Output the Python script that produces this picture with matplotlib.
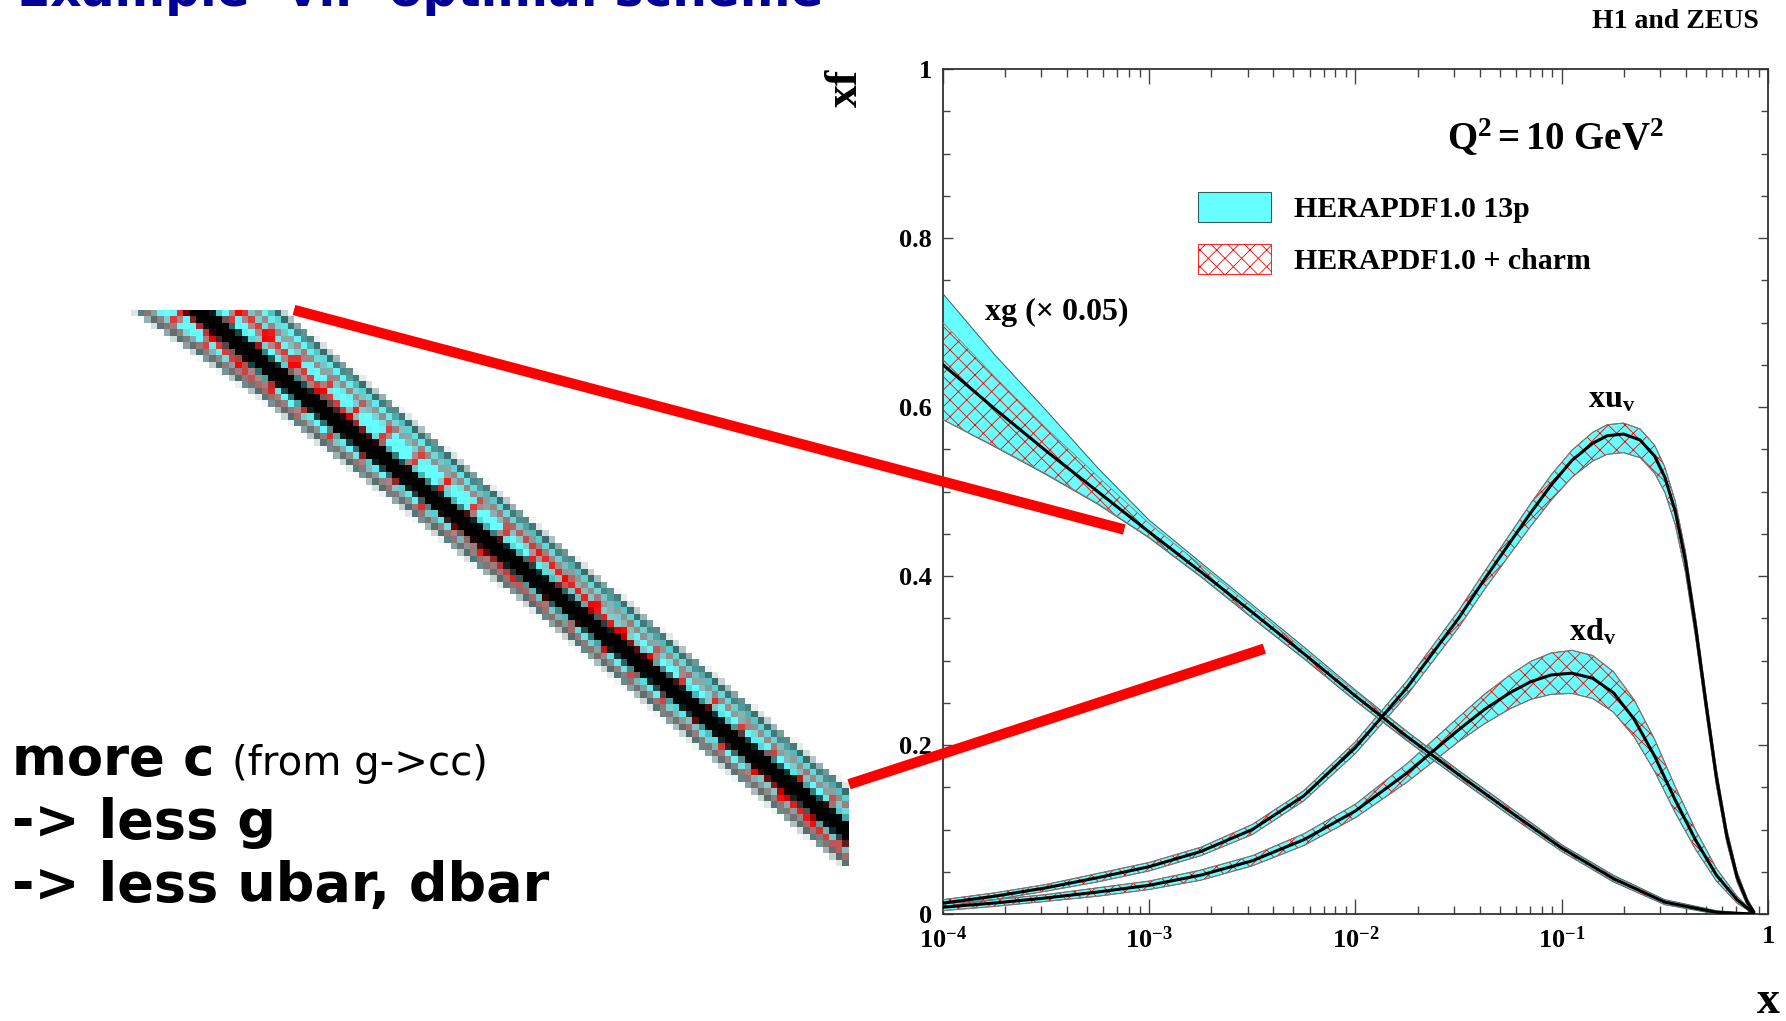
import numpy as np
import matplotlib
matplotlib.use("Agg")
import matplotlib.pyplot as plt
from matplotlib.patches import Patch, ConnectionPatch
from matplotlib.ticker import FixedLocator, LogLocator, NullFormatter, MultipleLocator

plt.rcParams['font.family'] = 'Liberation Serif'
plt.rcParams['mathtext.fontset'] = 'custom'
plt.rcParams['mathtext.rm'] = 'Liberation Serif'
plt.rcParams['mathtext.bf'] = 'Liberation Serif:bold'
plt.rcParams['mathtext.it'] = 'Liberation Serif:italic'
plt.rcParams['hatch.linewidth'] = 0.6

# ---- data (log10 x, xf) ----
# gluon xg * 0.05
lx_g = [-4.0, -3.75, -3.5, -3.25, -3.0, -2.75, -2.5, -2.25, -2.0, -1.75, -1.5, -1.25, -1.0, -0.75, -0.5, -0.25, -0.07]
xg_c = [0.650, 0.598, 0.548, 0.500, 0.452, 0.405, 0.357, 0.308, 0.258, 0.210, 0.165, 0.121, 0.078, 0.042, 0.014, 0.002, 0.000]
xg_hi = [0.734, 0.662, 0.596, 0.528, 0.466, 0.416, 0.366, 0.316, 0.265, 0.216, 0.170, 0.126, 0.082, 0.046, 0.017, 0.004, 0.000]
xg_lo = [0.585, 0.553, 0.520, 0.485, 0.445, 0.399, 0.350, 0.302, 0.252, 0.205, 0.160, 0.116, 0.074, 0.038, 0.011, 0.000, 0.000]
xg_chi = [0.700, 0.636, 0.575, 0.518, 0.462, 0.413, 0.363, 0.313, 0.263, 0.215, 0.169, 0.125, 0.081, 0.045, 0.016, 0.003, 0.000]
xg_clo = [0.585, 0.554, 0.521, 0.486, 0.446, 0.400, 0.351, 0.303, 0.253, 0.206, 0.161, 0.117, 0.074, 0.039, 0.011, 0.001, 0.000]

# u valence
lx_u = [-4.0, -3.75, -3.5, -3.25, -3.0, -2.75, -2.5, -2.25, -2.0, -1.75, -1.5, -1.375, -1.25, -1.15, -1.05, -0.95,
        -0.85, -0.78, -0.7, -0.62, -0.55, -0.5, -0.45, -0.4, -0.35, -0.3, -0.25, -0.2, -0.15, -0.1, -0.07]
xuv_c = [0.013, 0.021, 0.031, 0.043, 0.056, 0.074, 0.100, 0.140, 0.197, 0.268, 0.350, 0.396, 0.440, 0.475, 0.508, 0.537,
         0.557, 0.566, 0.568, 0.561, 0.542, 0.517, 0.477, 0.418, 0.338, 0.248, 0.162, 0.093, 0.044, 0.014, 0.003]
xuv_up = [0.004, 0.004, 0.004, 0.005, 0.005, 0.005, 0.006, 0.006, 0.007, 0.008, 0.009, 0.009, 0.010, 0.011, 0.012, 0.012,
          0.013, 0.013, 0.013, 0.013, 0.013, 0.012, 0.012, 0.011, 0.011, 0.010, 0.009, 0.008, 0.006, 0.004, 0.002]
xuv_dn = [0.004, 0.004, 0.004, 0.005, 0.005, 0.005, 0.006, 0.006, 0.007, 0.009, 0.011, 0.012, 0.014, 0.016, 0.018, 0.020,
          0.021, 0.022, 0.022, 0.021, 0.020, 0.018, 0.016, 0.014, 0.012, 0.011, 0.010, 0.008, 0.006, 0.004, 0.002]

# d valence
lx_d = [-4.0, -3.75, -3.5, -3.25, -3.0, -2.75, -2.5, -2.25, -2.0, -1.75, -1.5, -1.375, -1.25,
        -1.15, -1.05, -0.95, -0.85, -0.75, -0.65, -0.55, -0.45, -0.35, -0.25, -0.15, -0.07]
xdv_c = [0.008, 0.013, 0.019, 0.026, 0.034, 0.046, 0.063, 0.088, 0.122, 0.167, 0.218, 0.242, 0.262,
         0.275, 0.283, 0.285, 0.279, 0.262, 0.231, 0.187, 0.135, 0.087, 0.046, 0.017, 0.001]
xdv_up = [0.004, 0.004, 0.004, 0.005, 0.005, 0.006, 0.006, 0.007, 0.008, 0.011, 0.015, 0.018, 0.021,
          0.024, 0.026, 0.027, 0.027, 0.025, 0.023, 0.020, 0.016, 0.012, 0.008, 0.004, 0.001]
xdv_dn = [0.004, 0.004, 0.004, 0.005, 0.005, 0.006, 0.006, 0.007, 0.008, 0.011, 0.014, 0.017, 0.019,
          0.021, 0.023, 0.024, 0.024, 0.023, 0.021, 0.018, 0.015, 0.011, 0.007, 0.004, 0.001]

y_ticks = [0, 0.2, 0.4, 0.6, 0.8, 1]
y_labels = ['0', '0.2', '0.4', '0.6', '0.8', '1']
x_ticks = [1e-4, 1e-3, 1e-2, 1e-1, 1]
x_labels = [r'$\mathbf{10^{-4}}$', r'$\mathbf{10^{-3}}$', r'$\mathbf{10^{-2}}$', r'$\mathbf{10^{-1}}$', r'$\mathbf{1}$']
legend_labels = ['HERAPDF1.0 13p', 'HERAPDF1.0 + charm']

# zoomed window (log10 x range, xf range) and where the red lines point to
zoom_lx = (-3.12, -2.44)
zoom_y = (0.338, 0.463)
zoom_top = (10 ** -3.121, 0.455)
zoom_bot = (10 ** -2.442, 0.314)

CYAN = '#66ffff'
EDGE = '#2f5f5f'


def draw_band(a, lx, c, lo, hi, clo, chi, lw_c=2.2, lw_e=0.7, hatch='xx'):
    x = 10.0 ** np.array(lx)
    a.fill_between(x, lo, hi, facecolor=CYAN, edgecolor='none', lw=0, zorder=2)
    a.plot(x, lo, color=EDGE, lw=lw_e, zorder=3)
    a.plot(x, hi, color=EDGE, lw=lw_e, zorder=3)
    a.fill_between(x, clo, chi, facecolor='none', edgecolor='red', lw=0, hatch=hatch, zorder=4)
    a.plot(x, clo, color='#a07070', lw=lw_e * 0.8, zorder=4)
    a.plot(x, chi, color='#a07070', lw=lw_e * 0.8, zorder=4)
    a.plot(x, c, color='black', lw=lw_c, zorder=5)


fig = plt.figure(figsize=(17.86, 10.21), dpi=100)
ax = fig.add_axes([0.528, 0.1048, 0.4619, 0.8276])

uv_lo = np.array(xuv_c) - np.array(xuv_dn)
uv_hi = np.array(xuv_c) + np.array(xuv_up)
dv_lo = np.array(xdv_c) - np.array(xdv_dn)
dv_hi = np.array(xdv_c) + np.array(xdv_up)

draw_band(ax, lx_u, xuv_c, uv_lo, uv_hi, uv_lo, uv_hi)
draw_band(ax, lx_d, xdv_c, dv_lo, dv_hi, dv_lo, dv_hi)
draw_band(ax, lx_g, xg_c, xg_lo, xg_hi, xg_clo, xg_chi)

ax.set_xscale('log')
ax.set_xlim(1e-4, 1)
ax.set_ylim(0, 1)
ax.xaxis.set_major_locator(FixedLocator(x_ticks))
ax.set_xticklabels(x_labels, fontsize=19)
ax.xaxis.set_minor_locator(LogLocator(base=10, subs=np.arange(2, 10)))
ax.xaxis.set_minor_formatter(NullFormatter())
ax.set_yticks(y_ticks)
ax.set_yticklabels(y_labels, fontsize=19, fontweight='bold')
ax.yaxis.set_minor_locator(MultipleLocator(0.05))
ax.tick_params(which='both', direction='in', top=True, right=True, color='#444444', width=1)
ax.tick_params(axis='x', which='major', length=11, pad=9)
ax.tick_params(axis='x', which='minor', length=6)
ax.tick_params(axis='y', which='major', length=7, pad=8)
ax.tick_params(axis='y', which='minor', length=5)
for s in ax.spines.values():
    s.set_color('#333333')
    s.set_linewidth(1.3)

ax.text(-0.118, 1.0, 'xf', transform=ax.transAxes, rotation=90, ha='center', va='top',
        fontsize=33, fontweight='bold')
ax.text(1.0, -0.104, 'x', transform=ax.transAxes, ha='center', va='center', fontsize=33, fontweight='bold')
ax.text(0.743, 0.918, r'$\mathbf{Q^2 = 10\ GeV^2}$', transform=ax.transAxes, ha='center', va='center', fontsize=28)
ax.text(0.051, 0.712, 'xg (\u00d7 0.05)', transform=ax.transAxes, ha='left', va='center', fontsize=23, fontweight='bold')
ax.text(0.811, 0.608, r'$\mathbf{xu_v}$', transform=ax.transAxes, ha='center', va='center', fontsize=23)
ax.text(0.787, 0.333, r'$\mathbf{xd_v}$', transform=ax.transAxes, ha='center', va='center', fontsize=23)
fig.text(1675 / 1786, 1 - 22 / 1021, 'H1 and ZEUS', ha='center', va='center', fontsize=20, fontweight='bold')

handles = [Patch(facecolor=CYAN, edgecolor=EDGE, lw=0.8),
           Patch(facecolor='white', edgecolor='red', hatch='xx', lw=0.6)]
ax.legend(handles, legend_labels, loc='upper left', bbox_to_anchor=(0.309, 0.854), frameon=False,
          borderpad=0, borderaxespad=0, handlelength=2.44, handleheight=1.14, labelspacing=0.7,
          handletextpad=0.77, prop={'family': 'Liberation Serif', 'weight': 'bold', 'size': 21.5})

# ---- magnified, pixelated view of the gluon band ----
with plt.rc_context({'hatch.linewidth': 2.6}):
    sf = plt.figure(figsize=(110 / 25, 86 / 25), dpi=25, facecolor='white')
    sa = sf.add_axes([0, 0, 1, 1])
    sa.set_xscale('log')
    draw_band(sa, lx_g, xg_c, xg_lo, xg_hi, xg_clo, xg_chi, lw_c=8.6, lw_e=2.9, hatch='x')
    sa.set_xlim(10 ** zoom_lx[0], 10 ** zoom_lx[1])
    sa.set_ylim(*zoom_y)
    sa.set_axis_off()
    sf.canvas.draw()
    img = np.asarray(sf.canvas.buffer_rgba()).copy()
plt.close(sf)

ins = fig.add_axes([131 / 1786, 1 - 866 / 1021, 718 / 1786, 556 / 1021])
ins.imshow(img, interpolation='nearest', aspect='auto')
ins.set_axis_off()

for a_pt, b_pt in [((0.227, 1.0), zoom_top), ((1.0, 0.147), zoom_bot)]:
    con = ConnectionPatch(xyA=a_pt, coordsA=ins.transAxes, xyB=b_pt, coordsB=ax.transData,
                          color='red', lw=7.5, capstyle='butt')
    fig.add_artist(con)

# ---- slide text ----
fig.text(17 / 1786, 1 - 6 / 1021, 'Example -vii- optimal scheme', color='#000099', fontsize=35,
         fontweight='bold', family='DejaVu Sans', va='baseline')
fig.text(12 / 1786, 1 - 775 / 1021, 'more c', fontsize=38, fontweight='bold', family='DejaVu Sans', va='baseline')
fig.text(232 / 1786, 1 - 775 / 1021, '(from g->cc)', fontsize=29, family='DejaVu Sans', va='baseline')
fig.text(12 / 1786, 1 - 838 / 1021, '-> less g', fontsize=39, fontweight='bold', family='DejaVu Sans', va='baseline')
fig.text(12 / 1786, 1 - 901 / 1021, '-> less ubar, dbar', fontsize=39, fontweight='bold', family='DejaVu Sans',
         va='baseline')

fig.savefig('out.png', dpi=100)
